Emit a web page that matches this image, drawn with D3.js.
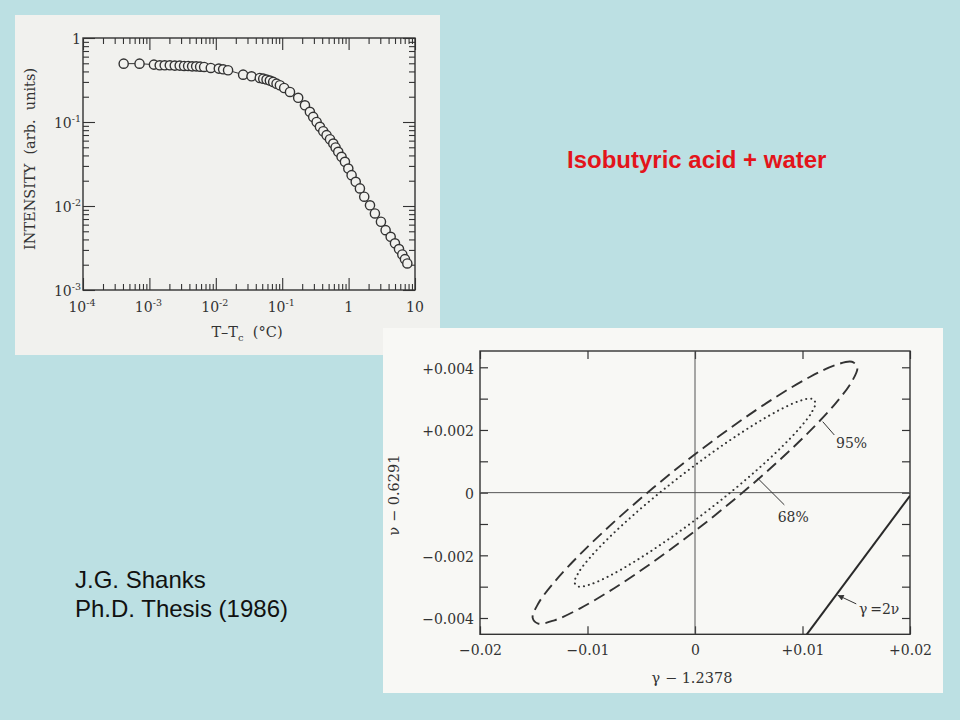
<!DOCTYPE html>
<html><head><meta charset="utf-8">
<script src="https://cdn.jsdelivr.net/npm/d3@7"></script>
<style>body{margin:0;background:#bce0e3}svg{display:block}</style>
</head><body><svg id="c" width="960" height="720"></svg>
<script>
// ---------- Data: upper figure (intensity vs T - Tc, log-log) ----------
const tempDiff = [4.1e-4, 7.1e-4, 1.17e-3, 1.43e-3, 1.70e-3, 2.03e-3, 2.41e-3, 2.86e-3, 3.33e-3, 3.83e-3,
  4.40e-3, 5.06e-3, 5.81e-3, 6.67e-3, 8.41e-3, 1.11e-2, 1.29e-2, 1.53e-2, 2.58e-2, 3.45e-2,
  4.60e-2, 5.18e-2, 5.81e-2, 6.52e-2, 7.31e-2, 8.22e-2, 9.23e-2, 0.107, 0.131, 0.174,
  0.22, 0.261, 0.293, 0.330, 0.370, 0.415, 0.466, 0.524, 0.588, 0.637,
  0.698, 0.783, 0.881, 0.99, 1.11, 1.28, 1.48, 1.72, 2.10, 2.49,
  3.07, 3.61, 4.30, 4.99, 5.74, 6.44, 7.06, 7.66];
const intensity = [0.495, 0.495, 0.482, 0.473, 0.473, 0.473, 0.469, 0.469, 0.465, 0.465,
  0.460, 0.460, 0.456, 0.452, 0.440, 0.432, 0.424, 0.413, 0.366, 0.350,
  0.334, 0.328, 0.320, 0.311, 0.300, 0.286, 0.274, 0.254, 0.228, 0.194,
  0.158, 0.132, 0.115, 0.100, 0.0875, 0.0777, 0.0697, 0.0624, 0.0554, 0.0497,
  0.0441, 0.0385, 0.0336, 0.0279, 0.0233, 0.0194, 0.0162, 0.0129, 0.0102, 0.00815,
  0.00649, 0.00516, 0.00430, 0.00359, 0.00307, 0.00265, 0.00233, 0.00207];
const xTickValues1 = [1e-4, 1e-3, 1e-2, 1e-1, 1, 10];
const xTickBase1 = ["10", "10", "10", "10", "1", "10"];
const xTickExp1 = ["-4", "-3", "-2", "-1", "", ""];
const yTickValues1 = [1e-3, 1e-2, 1e-1, 1];
const yTickBase1 = ["10", "10", "10", "1"];
const yTickExp1 = ["-3", "-2", "-1", ""];

// ---------- Data: lower figure (confidence ellipses) ----------
const ell95Gamma = [0.0151, 0.01459, 0.01308, 0.01068, 0.00755, 0.00391, 0, -0.00391, -0.00755, -0.01068, -0.01308, -0.01459,
  -0.0151, -0.01459, -0.01308, -0.01068, -0.00755, -0.00391, 0, 0.00391, 0.00755, 0.01068, 0.01308, 0.01459];
const ell95Nu = [0.003997, 0.004177, 0.004073, 0.003691, 0.003057, 0.002215, 0.001222, 0.000146, -0.000941, -0.001963, -0.002851, -0.003545,
  -0.003997, -0.004177, -0.004073, -0.003691, -0.003057, -0.002215, -0.001222, -0.000146, 0.000941, 0.001963, 0.002851, 0.003545];
const ell68Gamma = [0.0112, 0.01082, 0.0097, 0.00792, 0.0056, 0.0029, 0, -0.0029, -0.0056, -0.00792, -0.0097, -0.01082,
  -0.0112, -0.01082, -0.0097, -0.00792, -0.0056, -0.0029, 0, 0.0029, 0.0056, 0.00792, 0.0097, 0.01082];
const ell68Nu = [0.002869, 0.002998, 0.002923, 0.002649, 0.002194, 0.00159, 0.000877, 0.000105, -0.000675, -0.001409, -0.002046, -0.002544,
  -0.002869, -0.002998, -0.002923, -0.002649, -0.002194, -0.00159, -0.000877, -0.000105, 0.000675, 0.001409, 0.002046, 0.002544];
const lineGamma = [0.0104, 0.0200];
const lineNu = [-0.00452, -0.0001];
const xTickValues2 = [-0.02, -0.01, 0, 0.01, 0.02];
const xTickLabels2 = ["\u22120.02", "\u22120.01", "0", "+0.01", "+0.02"];
const yTickValues2 = [-0.004, -0.002, 0, 0.002, 0.004];
const yTickLabels2 = ["\u22120.004", "\u22120.002", "0", "+0.002", "+0.004"];
const yMinorValues2 = [-0.003, -0.001, 0.001, 0.003];
const annotText = ["95%", "68%"];
const annotGamma = [0.01312, 0.00769];
const annotNu = [0.00143, -0.000925];
const leaderFromGamma = [0.01188, 0.00583], leaderFromNu = [0.002265, 0.00046];
const leaderToGamma = [0.01296, 0.00831], leaderToNu = [0.00184, -0.00039];

const svg = d3.select("#c");
const ink = "#333333";
const serif = "DejaVu Serif, serif";
svg.append("rect").attr("width", 960).attr("height", 720).attr("fill", "#bce0e3");

// ================= Panel 1 =================
svg.append("rect").attr("x", 15).attr("y", 15).attr("width", 425).attr("height", 340).attr("fill", "#f1f1ee");
const x1 = d3.scaleLog().domain([1e-4, 10]).range([83, 415]);
const y1 = d3.scaleLog().domain([1e-3, 1]).range([290, 38]);
const g1 = svg.append("g");
const isDecade = d => Math.abs(Math.log10(d) - Math.round(Math.log10(d))) < 1e-9;
const xMinor1 = x1.ticks().filter(d => !isDecade(d));
const yMinor1 = y1.ticks().filter(d => !isDecade(d));

function ticks1(axisFn, scale, vals, size, tr) {
  g1.append("g").attr("transform", tr)
    .call(axisFn(scale).tickValues(vals).tickSize(size).tickFormat(""))
    .call(g => g.select(".domain").remove())
    .selectAll("line").attr("stroke", ink).attr("stroke-width", 1.1);
}
ticks1(d3.axisBottom, x1, xTickValues1, -12, "translate(0,290)");
ticks1(d3.axisBottom, x1, xMinor1, -6, "translate(0,290)");
ticks1(d3.axisTop, x1, xTickValues1, -12, "translate(0,38)");
ticks1(d3.axisTop, x1, xMinor1, -6, "translate(0,38)");
ticks1(d3.axisLeft, y1, yTickValues1, -12, "translate(83,0)");
ticks1(d3.axisLeft, y1, yMinor1, -6, "translate(83,0)");
ticks1(d3.axisRight, y1, yTickValues1, -12, "translate(415,0)");
ticks1(d3.axisRight, y1, yMinor1, -6, "translate(415,0)");
g1.append("rect").attr("x", 83).attr("y", 38).attr("width", 332).attr("height", 252)
  .attr("fill", "none").attr("stroke", ink).attr("stroke-width", 1.4);

// tick labels with superscripts
g1.selectAll("text.xl").data(xTickValues1).join("text").attr("class", "xl")
  .attr("x", d => x1(d) - (xTickExp1[xTickValues1.indexOf(d)] ? 1 : 0)).attr("y", 312)
  .attr("text-anchor", "middle").attr("font-family", serif).attr("font-size", 14).attr("fill", ink)
  .each(function (d, i) {
    const t = d3.select(this);
    t.append("tspan").text(xTickBase1[i]);
    if (xTickExp1[i]) t.append("tspan").attr("dy", -6).attr("font-size", 9.5).text(xTickExp1[i]);
  });
g1.selectAll("text.yl").data(yTickValues1).join("text").attr("class", "yl")
  .attr("x", 81).attr("y", d => y1(d) + 5.5)
  .attr("text-anchor", "end").attr("font-family", serif).attr("font-size", 14).attr("fill", ink)
  .each(function (d, i) {
    const t = d3.select(this);
    t.append("tspan").text(yTickBase1[i]);
    if (yTickExp1[i]) t.append("tspan").attr("dy", -6).attr("font-size", 9.5).text(yTickExp1[i]);
  });
// axis titles
const xt = g1.append("text").attr("x", 247).attr("y", 337).attr("text-anchor", "middle")
  .attr("font-family", serif).attr("font-size", 14.5).attr("fill", ink);
xt.append("tspan").text("T\u2013T");
xt.append("tspan").attr("dy", 4).attr("font-size", 10).text("c");
xt.append("tspan").attr("dy", -4).text("\u00a0\u00a0(\u00b0C)");
g1.append("text").attr("transform", "translate(35,159) rotate(-90)").attr("text-anchor", "middle")
  .attr("font-family", serif).attr("font-size", 14.5).attr("fill", ink).text("INTENSITY\u00a0\u00a0(arb.\u00a0\u00a0units)");

// data line + open circles
const pts = tempDiff.map((t, i) => [t, intensity[i]]);
g1.append("path").datum(pts)
  .attr("d", d3.line().x(d => x1(d[0])).y(d => y1(d[1])))
  .attr("fill", "none").attr("stroke", ink).attr("stroke-width", 1);
g1.selectAll("circle").data(pts).join("circle")
  .attr("cx", d => x1(d[0])).attr("cy", d => y1(d[1])).attr("r", 4.6)
  .attr("fill", "#f1f1ee").attr("stroke", ink).attr("stroke-width", 1.4);

// ================= Panel 2 =================
svg.append("rect").attr("x", 383).attr("y", 328).attr("width", 560).attr("height", 365).attr("fill", "#f8f8f5");
const x2 = d3.scaleLinear().domain([-0.02, 0.02]).range([480, 910]);
const y2 = d3.scaleLinear().domain([-0.00452, 0.00452]).range([634.3, 351]);
const g2 = svg.append("g");
svg.append("defs").append("clipPath").attr("id", "clip2").append("rect")
  .attr("x", 480).attr("y", 351).attr("width", 430).attr("height", 283.3);
svg.select("defs").append("marker").attr("id", "arr").attr("viewBox", "0 0 10 10")
  .attr("refX", 10).attr("refY", 5).attr("markerWidth", 8).attr("markerHeight", 6)
  .attr("markerUnits", "userSpaceOnUse").attr("orient", "auto")
  .append("path").attr("d", "M0,0 L10,5 L0,10 Z").attr("fill", ink);

function axis2(axisFn, scale, vals, fmt, tr, pad) {
  const g = g2.append("g").attr("transform", tr)
    .call(axisFn(scale).tickValues(vals).tickSize(-8).tickSizeOuter(0).tickPadding(pad).tickFormat(fmt))
    .call(g => g.select(".domain").remove());
  g.selectAll("line").attr("stroke", ink).attr("stroke-width", 1.2);
  g.selectAll("text").attr("font-family", serif).attr("font-size", 14).attr("fill", ink);
  return g;
}
axis2(d3.axisBottom, x2, xTickValues2, (d, i) => xTickLabels2[i], "translate(0,634.3)", 11);
axis2(d3.axisTop, x2, xTickValues2, "", "translate(0,351)", 0);
const ay2 = axis2(d3.axisLeft, y2, yTickValues2, (d, i) => yTickLabels2[i], "translate(480,0)", 6);
ay2.selectAll("text").attr("dy", "0.42em");
axis2(d3.axisLeft, y2, yMinorValues2, "", "translate(480,0)", 6);
axis2(d3.axisRight, y2, yTickValues2.concat(yMinorValues2), "", "translate(910,0)", 0);

g2.append("rect").attr("x", 480).attr("y", 351).attr("width", 430).attr("height", 283.3)
  .attr("fill", "none").attr("stroke", ink).attr("stroke-width", 1.4);
// zero lines
g2.append("line").attr("x1", x2(0)).attr("x2", x2(0)).attr("y1", 351).attr("y2", 634.3)
  .attr("stroke", "#555").attr("stroke-width", 1);
g2.append("line").attr("x1", 480).attr("x2", 910).attr("y1", y2(0)).attr("y2", y2(0))
  .attr("stroke", "#555").attr("stroke-width", 1);

const clipG = g2.append("g").attr("clip-path", "url(#clip2)");
const ell = d3.line().x(d => x2(d[0])).y(d => y2(d[1])).curve(d3.curveCatmullRomClosed);
clipG.append("path").datum(ell95Gamma.map((g, i) => [g, ell95Nu[i]])).attr("d", ell)
  .attr("fill", "none").attr("stroke", ink).attr("stroke-width", 1.9).attr("stroke-dasharray", "12,6");
clipG.append("path").datum(ell68Gamma.map((g, i) => [g, ell68Nu[i]])).attr("d", ell)
  .attr("fill", "none").attr("stroke", ink).attr("stroke-width", 2).attr("stroke-linecap", "round")
  .attr("stroke-dasharray", "0.1,5");
clipG.append("path").datum(lineGamma.map((g, i) => [g, lineNu[i]]))
  .attr("d", d3.line().x(d => x2(d[0])).y(d => y2(d[1])))
  .attr("stroke", "#2a2a2a").attr("stroke-width", 2).attr("fill", "none");

// annotations
g2.selectAll("line.lead").data(annotText).join("line").attr("class", "lead")
  .attr("x1", (d, i) => x2(leaderFromGamma[i])).attr("y1", (d, i) => y2(leaderFromNu[i]))
  .attr("x2", (d, i) => x2(leaderToGamma[i])).attr("y2", (d, i) => y2(leaderToNu[i]))
  .attr("stroke", ink).attr("stroke-width", 1);
g2.selectAll("text.ann").data(annotText).join("text").attr("class", "ann")
  .attr("x", (d, i) => x2(annotGamma[i])).attr("y", (d, i) => y2(annotNu[i]))
  .attr("font-family", serif).attr("font-size", 14).attr("fill", ink).text(d => d);
g2.append("line").attr("x1", x2(0.01500)).attr("y1", y2(-0.00355))
  .attr("x2", x2(0.01327)).attr("y2", y2(-0.00327))
  .attr("stroke", ink).attr("stroke-width", 1).attr("marker-end", "url(#arr)");
g2.append("text").attr("x", x2(0.01526)).attr("y", y2(-0.00387))
  .attr("font-family", serif).attr("font-size", 14).attr("fill", ink).text("\u03b3\u2009=2\u03bd");

// axis titles
g2.append("text").attr("x", 692).attr("y", 683).attr("text-anchor", "middle")
  .attr("font-family", serif).attr("font-size", 14.5).attr("fill", ink).text("\u03b3 \u2212 1.2378");
g2.append("text").attr("transform", "translate(399,495) rotate(-90)").attr("text-anchor", "middle")
  .attr("font-family", serif).attr("font-size", 14.5).attr("fill", ink).text("\u03bd \u2212 0.6291");

// ================= Slide text =================
svg.append("text").attr("x", 567).attr("y", 168).attr("font-family", "Liberation Sans, Arial, sans-serif")
  .attr("font-weight", "bold").attr("font-size", 24).attr("fill", "#e3141b").text("Isobutyric acid + water");
svg.append("text").attr("x", 75).attr("y", 588).attr("font-family", "Liberation Sans, Arial, sans-serif")
  .attr("font-size", 24).attr("fill", "#111").text("J.G. Shanks");
svg.append("text").attr("x", 75).attr("y", 617).attr("font-family", "Liberation Sans, Arial, sans-serif")
  .attr("font-size", 24).attr("fill", "#111").text("Ph.D. Thesis (1986)");
</script>
</body></html>
